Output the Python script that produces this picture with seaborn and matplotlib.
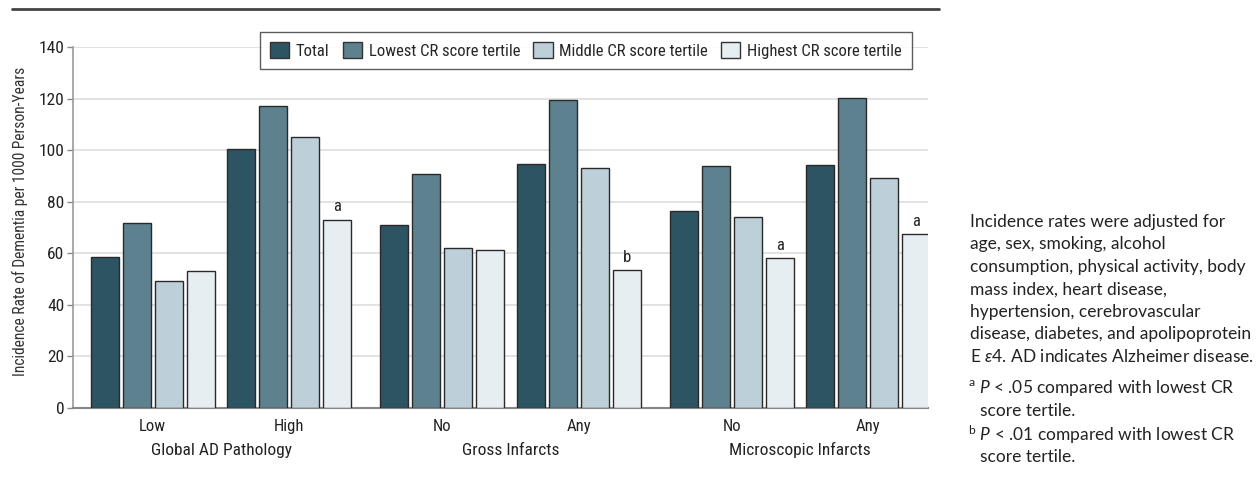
import matplotlib
matplotlib.use("Agg")
import matplotlib.pyplot as plt
import seaborn as sns
import pandas as pd
import numpy as np

# ---- data ----
subgroups = ["Low", "High", "No", "Any", "No", "Any"]
domains = ["Global AD Pathology", "Gross Infarcts", "Microscopic Infarcts"]
domain_of = [0, 0, 1, 1, 2, 2]
series = ["Total", "Lowest CR score tertile", "Middle CR score tertile", "Highest CR score tertile"]
total = [58.5, 100.3, 70.8, 94.6, 76.2, 94.3]
lowest = [71.5, 117.0, 90.5, 119.3, 93.7, 120.4]
middle = [49.0, 105.2, 62.0, 93.0, 74.0, 89.3]
highest = [53.0, 73.0, 61.3, 53.3, 58.0, 67.5]
sig_highest = ["", "a", "", "b", "a", "a"]
yticks = [0, 20, 40, 60, 80, 100, 120, 140]

colors = ["#2D5462", "#5E818F", "#BDD0D9", "#E6EEF1"]

dom_gap = 1.12
xpos = []
for i in range(len(subgroups)):
    d = domain_of[i]
    xpos.append(d * (1 + dom_gap) + (i % 2))

rows = []
for vals, s in zip([total, lowest, middle, highest], series):
    for i, v in enumerate(vals):
        rows.append({"x": xpos[i], "series": s, "value": v})
df = pd.DataFrame(rows)

sns.set_theme(style="white")
COND = ["Roboto Condensed", "Roboto", "DejaVu Sans"]
plt.rcParams["font.family"] = COND

fig = plt.figure(figsize=(12.6, 4.8), dpi=100)
ax = fig.add_axes([0.0577, 0.151, 0.7365 - 0.0577, 0.902 - 0.151])

sns.barplot(data=df, x="x", y="value", hue="series", hue_order=series,
            palette=colors, saturation=1, native_scale=True, width=0.937, gap=0.125,
            edgecolor="#2a2a2a", linewidth=1.0, ax=ax, legend=True, zorder=3)

ax.set_ylim(0, 140)
ax.set_xlim(-0.586, xpos[-1] + 0.436)
ax.set_yticks(yticks)
ax.set_yticklabels([str(t) for t in yticks], fontsize=12.5, color="#222222")
ax.yaxis.grid(True, color="#dddddd", linewidth=1.2, zorder=0)
ax.set_axisbelow(True)
ax.set_xticks(xpos)
ax.set_xticklabels(subgroups, fontsize=12, color="#222222")
ax.tick_params(axis="x", length=0, pad=8)
ax.tick_params(axis="y", length=4, width=1, color="#888888", pad=2, left=True)
ax.set_xlabel("")
ax.set_ylabel("Incidence Rate of Dementia per 1000 Person-Years",
              fontsize=11.2, color="#333333")
ax.yaxis.set_label_coords(-0.052, 0.515)
for sp in ["top", "right"]:
    ax.spines[sp].set_visible(False)
ax.spines["left"].set_color("#999999")
ax.spines["left"].set_linewidth(1.2)
ax.spines["bottom"].set_color("#888888")
ax.spines["bottom"].set_linewidth(1.5)

# domain labels
for d, name in enumerate(domains):
    xs = [xpos[i] for i in range(len(subgroups)) if domain_of[i] == d]
    ax.text(np.mean(xs), -0.118, name, transform=ax.get_xaxis_transform(),
            ha="center", va="center", fontsize=12.5, color="#222222")

# significance marks above highest-tertile bars
cont = ax.containers[3]
for bar in cont:
    cx = bar.get_x() + bar.get_width() / 2
    i = int(np.argmin([abs(cx - p) for p in xpos]))
    if sig_highest[i]:
        ax.text(cx, bar.get_height() + 2, sig_highest[i], ha="center",
                va="bottom", fontsize=12, color="#222222")

# legend
handles, labels = ax.get_legend_handles_labels()
leg = ax.legend(handles, labels, loc="upper center", bbox_to_anchor=(0.60, 1.042),
                ncol=4, frameon=True, fontsize=12, handlelength=1.15,
                handleheight=1.15, columnspacing=0.8, handletextpad=0.4,
                borderpad=0.6, borderaxespad=0, fancybox=False)
leg.get_frame().set_edgecolor("#333333")
leg.get_frame().set_linewidth(1.0)
leg.set_zorder(10)
for h in leg.legend_handles:
    h.set_edgecolor("#333333")

# top rule
fig.add_artist(plt.Line2D([12 / 1260, 939 / 1260], [1 - 9 / 480, 1 - 9 / 480],
                          color="#444444", linewidth=2))

# side note
plt.rcParams["mathtext.fontset"] = "custom"
plt.rcParams["mathtext.rm"] = "Lato"
plt.rcParams["mathtext.it"] = "Lato:italic"
note_lines = ["Incidence rates were adjusted for",
              "age, sex, smoking, alcohol",
              "consumption, physical activity, body",
              "mass index, heart disease,",
              "hypertension, cerebrovascular",
              "disease, diabetes, and apolipoprotein",
              r"E $\mathit{\varepsilon 4}$. AD indicates Alzheimer disease."]
y0 = 1 - 222 / 480
lh = 22.5 / 480
for k, line in enumerate(note_lines):
    fig.text(970 / 1260, y0 - k * lh, line, fontsize=12.5, family="Lato",
             color="#222222", va="center", ha="left")
foot = [(388, r"$^{\mathrm{a}}$ $\mathit{P}$ < .05 compared with lowest CR", 968),
        (411, "score tertile.", 980),
        (435, r"$^{\mathrm{b}}$ $\mathit{P}$ < .01 compared with lowest CR", 968),
        (457, "score tertile.", 980)]
for yy, t, xx in foot:
    fig.text(xx / 1260, 1 - yy / 480, t, fontsize=12.5, family="Lato",
             color="#222222", va="center", ha="left")

fig.savefig("out.png", dpi=100)
